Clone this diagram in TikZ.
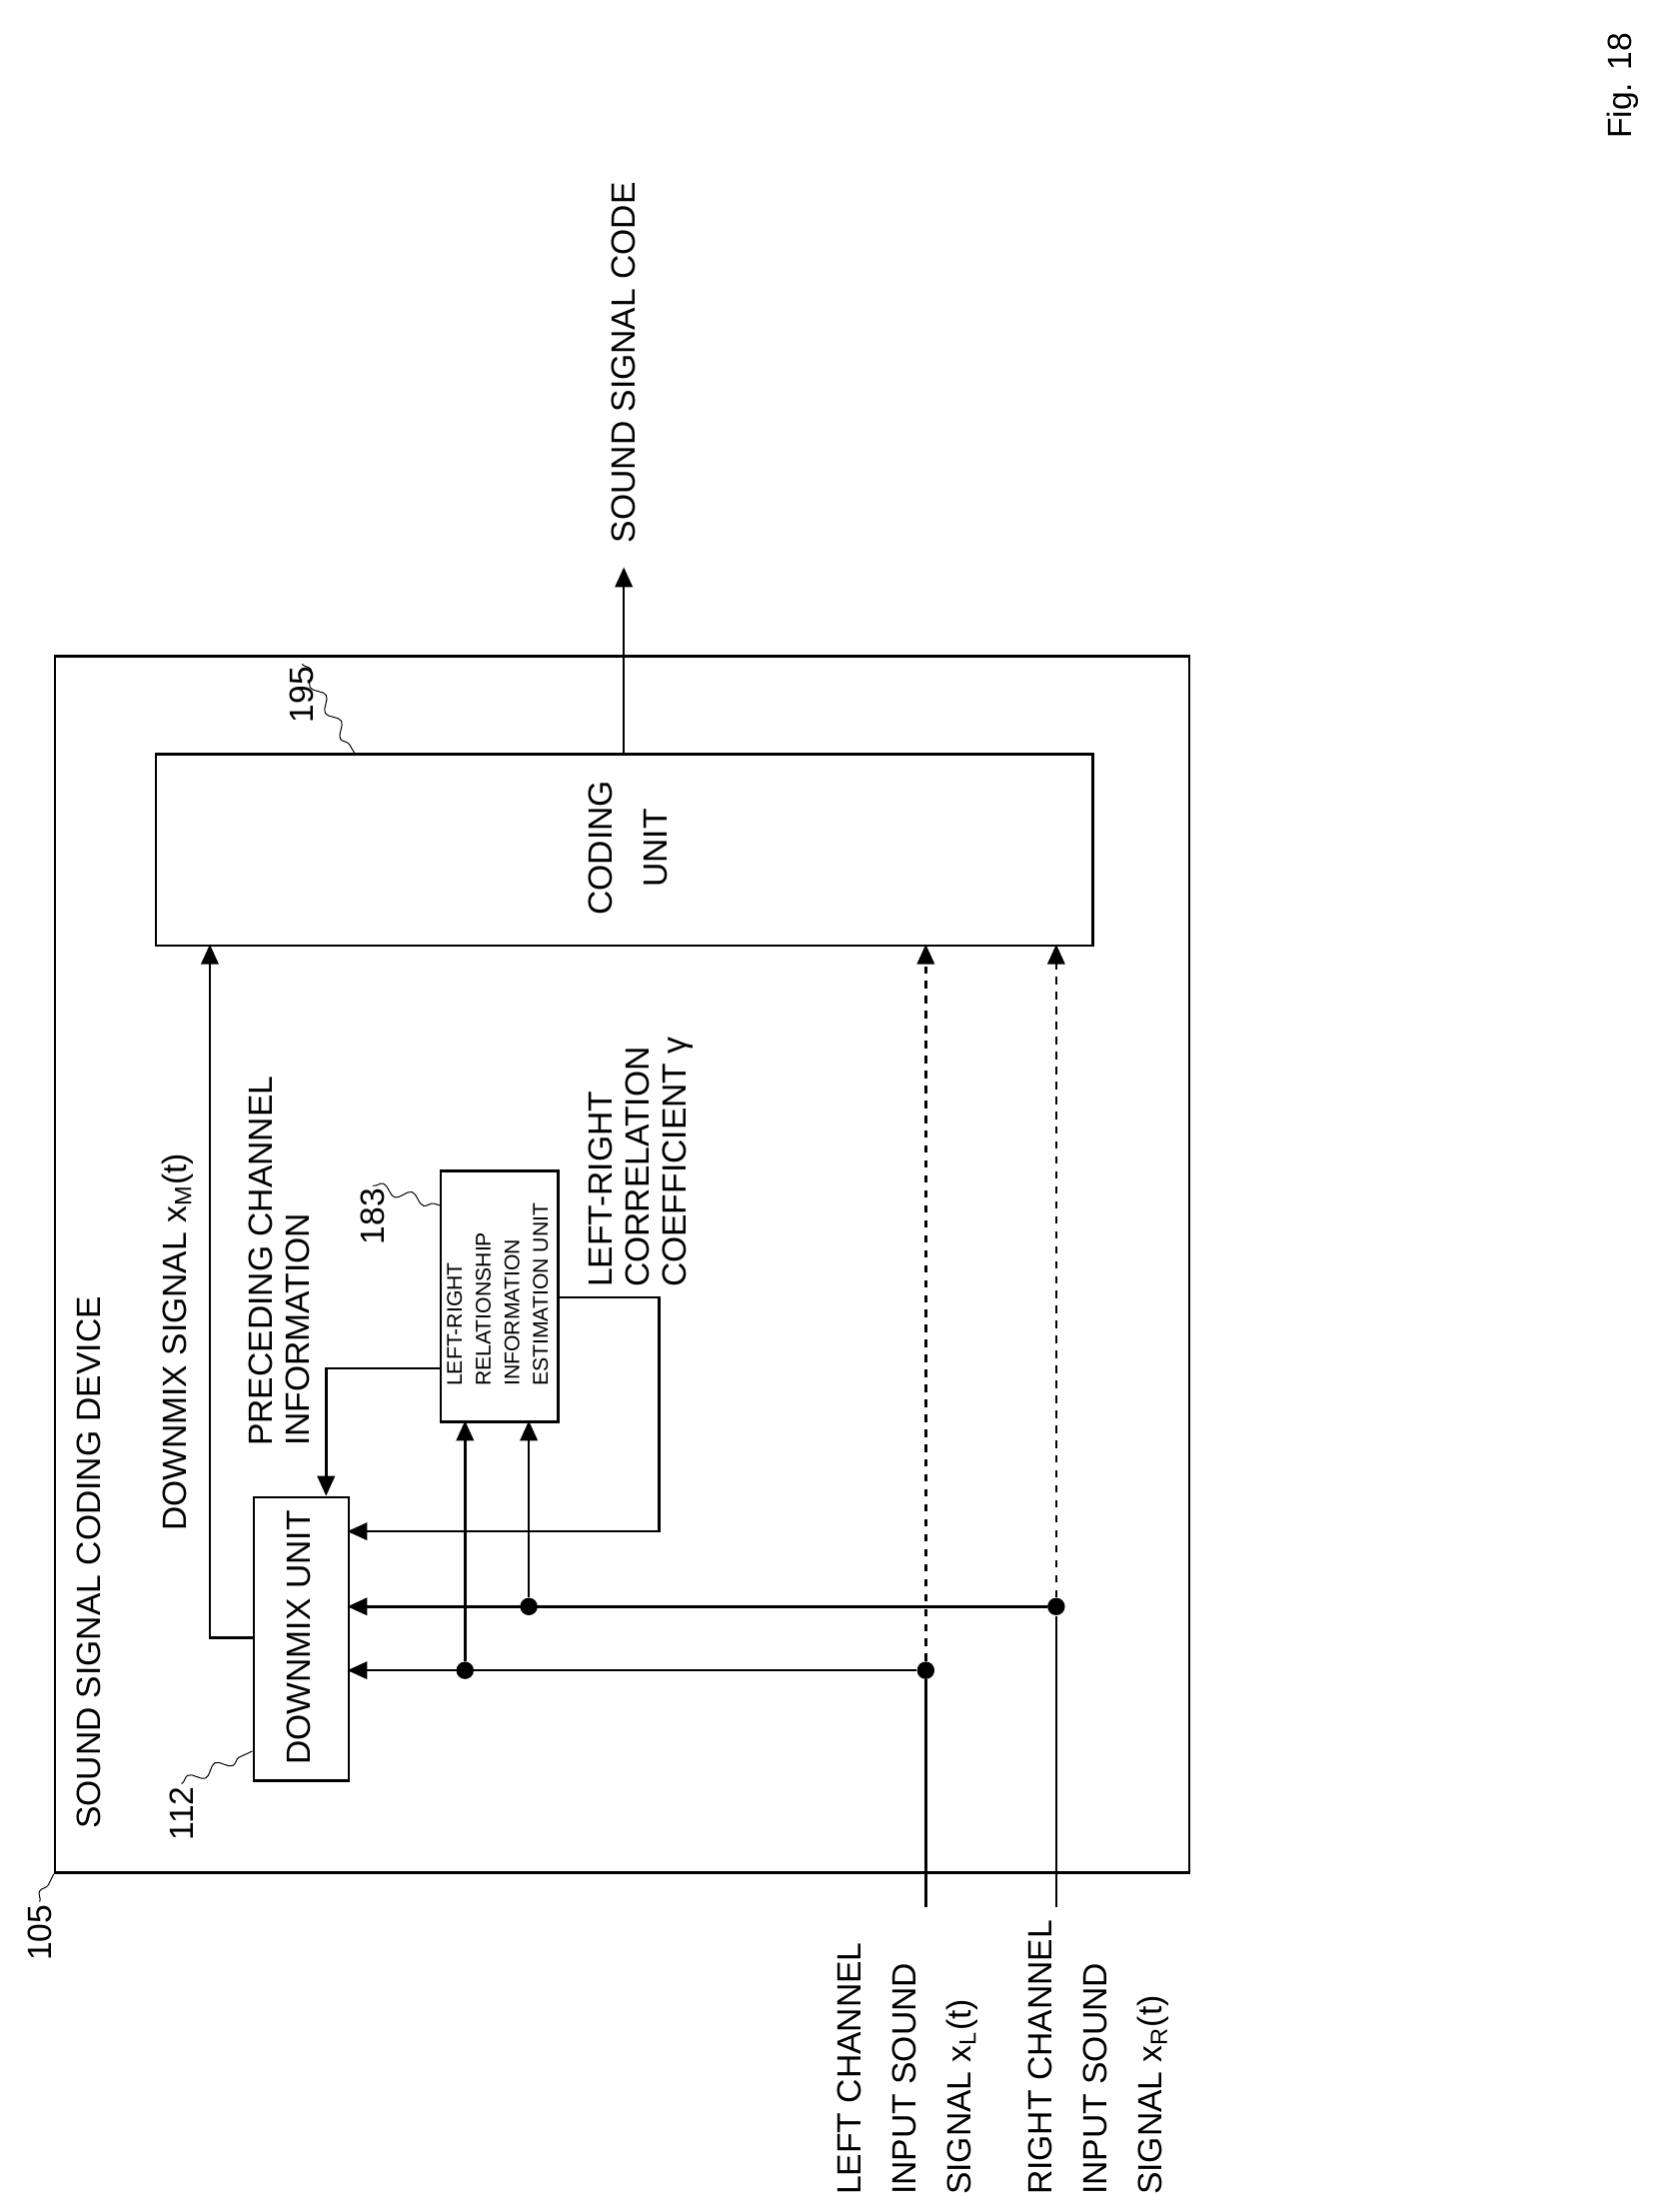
\documentclass[tikz,border=0pt]{standalone}
\usepackage{fontspec}
\setmainfont{Liberation Sans}
\usetikzlibrary{arrows.meta,decorations.pathmorphing}
\tikzset{
  blk/.style={draw, line width=1pt, inner sep=0pt},
  lbl/.style={rotate=90, font=\fontsize{13.5}{15}\selectfont, align=left, inner sep=1pt},
  wide/.style={font=\fontsize{13.5}{22}\selectfont},
  sig/.style={line width=1pt, -{Triangle[length=8pt,width=7pt]}},
  dot/.style={circle, fill, inner sep=0pt, minimum size=7pt},
  squig/.style={decorate, decoration={snake, amplitude=2pt, segment length=12pt}}
}
\begin{document}
\begin{tikzpicture}[x=0.02cm, y=-0.02cm]
    \useasboundingbox (0,0) rectangle (1170,1560);

    % Device frame
    \node[blk, minimum width=16cm, minimum height=17.16cm, anchor=north west] (dev) at (38,462) {};
    \node[lbl, anchor=west] (devlbl) at (63,1292) {SOUND SIGNAL CODING DEVICE};
    \node[lbl, anchor=west] (n105) at (28,1385) {105};
    \draw[squig] (n105.east) -- (dev.south west);

    % Coding unit
    \node[blk, minimum width=13.22cm, minimum height=2.7cm, anchor=north west] (coder) at (109,531) {};
    \node[lbl, wide, align=center] at (443,598) {CODING\\UNIT};
    \node[lbl, anchor=west] (n195) at (213,512) {195};
    \coordinate (c195) at (250,531);
    \draw[squig] (n195.east) -- (c195);

    % Downmix unit
    \node[blk, minimum width=1.34cm, minimum height=4cm, anchor=north west] (dmx) at (178,1055) {};
    \node[lbl] at (211,1155) {DOWNMIX UNIT};
    \node[lbl, anchor=west] (n112) at (128,1300) {112};
    \coordinate (c112) at (178,1235);
    \draw[squig] (n112.east) -- (c112);

    % Estimation unit
    \node[blk, minimum width=1.66cm, minimum height=3.54cm, anchor=north west] (est) at (310,825) {};
    \node[lbl, font=\fontsize{8.5}{11.5}\selectfont] at (351,913) {LEFT-RIGHT\\RELATIONSHIP\\INFORMATION\\ESTIMATION UNIT};
    \node[lbl, anchor=west] (n183) at (263,880) {183};
    \coordinate (c183) at (310,850);
    \draw[squig] (n183.east) -- (c183);

    % Output
    \coordinate (out) at (440,400);
    \draw[sig] (440,531) -- (out);
    \node[lbl, anchor=west] at (440,385) {SOUND SIGNAL CODE};

    % Downmix signal
    \draw[sig] (178,1155) -| (148,666);
    \node[lbl, anchor=west] at (125,1082) {DOWNMIX SIGNAL x\textsubscript{M}(t)};

    % Preceding channel information
    \draw[sig] (310,965) -| (230,1055);
    \node[lbl, anchor=west] at (197,1022) {PRECEDING CHANNEL\\INFORMATION};

    % Correlation coefficient
    \draw[sig] (393,915) -| (465,1080) -- (245,1080);
    \node[lbl, anchor=west] at (452,910) {LEFT-RIGHT\\CORRELATION\\COEFFICIENT γ};

    % Left channel
    \coordinate (inL) at (653,1345);
    \node[dot] (jL) at (653,1178) {};
    \node[dot] (jL2) at (328,1178) {};
    \draw[line width=1pt] (inL) -- (jL);
    \draw[sig] (jL) -- (245,1178);
    \draw[sig] (jL2) -- (328,1002);
    \draw[sig, dashed] (jL) -- (653,666);
    \node[lbl, wide, anchor=west] at (640,1550) {LEFT CHANNEL\\INPUT SOUND\\SIGNAL x\textsubscript{L}(t)};

    % Right channel
    \coordinate (inR) at (745,1345);
    \node[dot] (jR) at (745,1133) {};
    \node[dot] (jR2) at (373,1133) {};
    \draw[line width=1pt] (inR) -- (jR);
    \draw[sig] (jR) -- (245,1133);
    \draw[sig] (jR2) -- (373,1002);
    \draw[sig, dashed] (jR) -- (745,666);
    \node[lbl, wide, anchor=west] at (775,1550) {RIGHT CHANNEL\\INPUT SOUND\\SIGNAL x\textsubscript{R}(t)};

    \node[lbl, anchor=west] at (1145,100) {Fig. 18};
\end{tikzpicture}
\end{document}
